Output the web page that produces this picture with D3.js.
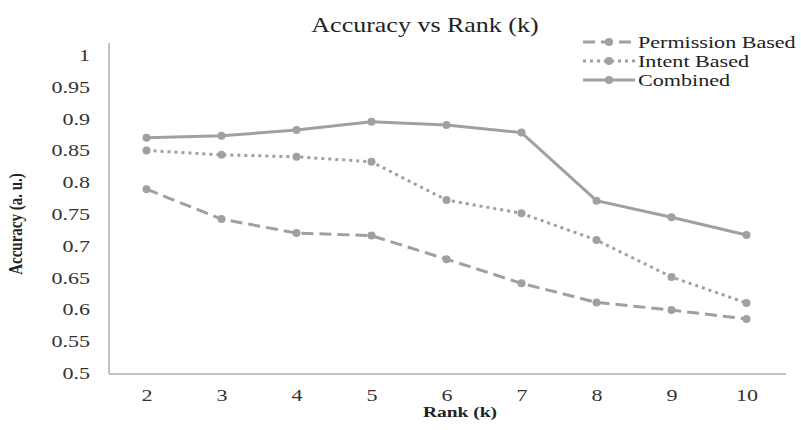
<!DOCTYPE html>
<html><head><meta charset="utf-8">
<script src="https://cdn.jsdelivr.net/npm/d3@7"></script>
<style>body{margin:0;background:#fff}svg{display:block}
svg text{font-family:"Liberation Serif","Times New Roman","DejaVu Serif",serif;}</style>
</head><body>
<svg id="c" width="801" height="430"></svg>
<script>
const ranks = [2,3,4,5,6,7,8,9,10];
const permissionBased = [0.789,0.742,0.720,0.716,0.679,0.641,0.611,0.599,0.585];
const intentBased     = [0.850,0.843,0.840,0.832,0.772,0.751,0.709,0.651,0.610];
const combined        = [0.870,0.873,0.882,0.895,0.890,0.878,0.771,0.745,0.717];
const yTicks = [0.5,0.55,0.6,0.65,0.7,0.75,0.8,0.85,0.9,0.95,1];
const seriesNames = ["Permission Based","Intent Based","Combined"];

const SX = 1.3;
const gray = "#a0a0a0";
const svg = d3.select("#c");

const x = d3.scalePoint().domain(ranks).range([109,784]).padding(0.5);
const y = d3.scaleLinear().domain([0.5,1]).range([373,55]);

svg.append("line").attr("x1",109).attr("x2",109).attr("y1",43).attr("y2",374)
  .attr("stroke","#b0b0b0").attr("stroke-width",1.5);
svg.append("line").attr("x1",109).attr("x2",786).attr("y1",374).attr("y2",374)
  .attr("stroke","#b0b0b0").attr("stroke-width",1.5);

const yAxis = svg.append("g").attr("transform","translate(109,0)")
  .call(d3.axisLeft(y).tickValues(yTicks).tickSize(0).tickPadding(14.6).tickFormat(d=>String(d)));
yAxis.select(".domain").remove();
yAxis.attr("font-family",null).attr("font-size",null);
yAxis.selectAll("text").style("font-size","17px").attr("fill","#333")
  .attr("transform",`scale(${SX},1)`);

const xAxis = svg.append("g").attr("transform","translate(0,374)")
  .call(d3.axisBottom(x).tickSize(0).tickPadding(15));
xAxis.select(".domain").remove();
xAxis.attr("font-family",null).attr("font-size",null);
xAxis.selectAll("text").style("font-size","17px").attr("fill","#333")
  .attr("transform",`scale(${SX},1)`);

const styles = [
  {data: permissionBased, dash: "12,6"},
  {data: intentBased, dash: "3,4"},
  {data: combined, dash: null}
];
const line = d3.line().x((d,i)=>x(ranks[i])).y(d=>y(d));
styles.forEach(s=>{
  svg.append("path").datum(s.data).attr("d",line).attr("fill","none")
    .attr("stroke",gray).attr("stroke-width",3)
    .attr("stroke-dasharray",s.dash);
  svg.append("g").selectAll("circle").data(s.data).join("circle")
    .attr("cx",(d,i)=>x(ranks[i])).attr("cy",d=>y(d)).attr("r",4).attr("fill",gray);
});

function stext(xp,yp,str,size,weight,anchor,rot){
  const g = svg.append("g").attr("transform",`translate(${xp},${yp})${rot?` rotate(${rot})`:""}`);
  g.append("text").attr("transform", rot ? `scale(1,${SX})` : `scale(${SX},1)`)
    .attr("text-anchor",anchor).style("font-size",size+"px")
    .style("font-weight",weight).attr("fill","#222").text(str);
  return g;
}
stext(425,32,"Accuracy vs Rank (k)",20,"normal","middle");
stext(460,417,"Rank (k)",15,"bold","middle");
stext(22,224,"Accuracy (a. u.)",15,"bold","middle",-90);

const legY = [42,61,80];
styles.forEach((s,i)=>{
  svg.append("line").attr("x1",583).attr("x2",635).attr("y1",legY[i]).attr("y2",legY[i])
    .attr("stroke",gray).attr("stroke-width",3).attr("stroke-dasharray",s.dash);
  svg.append("circle").attr("cx",609).attr("cy",legY[i]).attr("r",4).attr("fill",gray);
  stext(638,legY[i]+6,seriesNames[i],17,"normal","start");
});
</script>
</body></html>
